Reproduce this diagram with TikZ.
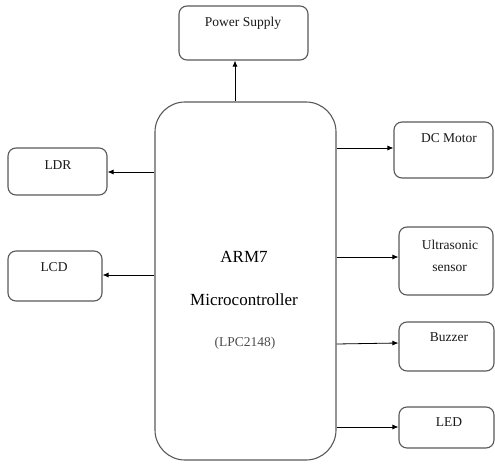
\documentclass[tikz,border=0pt]{standalone}
\usepackage{fontspec}
\setmainfont{Liberation Serif}
\usetikzlibrary{arrows.meta}
\begin{document}
\begin{tikzpicture}[x=1pt,y=-1pt,
  box/.style={draw=black!65,line width=1.1pt,rounded corners=8pt,inner sep=0pt,fill=white},
  bigbox/.style={draw=black!65,line width=1.1pt,rounded corners=30pt,inner sep=0pt},
  lbl/.style={inner sep=0pt,font=\fontsize{13.5}{15}\selectfont,text=black!90},
  mlbl/.style={inner sep=0pt,font=\fontsize{17}{19}\selectfont},
  arr/.style={draw=black,line width=0.8pt,-{Latex[length=6pt,width=5pt]}}]
\useasboundingbox (0,0) rectangle (495,465);
% boxes
\node[bigbox,minimum width=181pt,minimum height=358pt] (main) at (245.5,281) {};
\node[box,minimum width=129pt,minimum height=54pt] (ps) at (243.5,33) {};
\node[box,minimum width=99pt,minimum height=47pt] (ldr) at (57.5,171.5) {};
\node[box,minimum width=94pt,minimum height=50pt] (lcd) at (55,276) {};
\node[box,minimum width=99pt,minimum height=56pt] (dc) at (443.5,150) {};
\node[box,minimum width=94pt,minimum height=68pt] (us) at (446,261) {};
\node[box,minimum width=95pt,minimum height=49pt] (bz) at (446.5,346.5) {};
\node[box,minimum width=95pt,minimum height=41pt] (led) at (446.5,427.5) {};
% labels
\node[lbl] (tps) at (243,23) {Power Supply};
\node[lbl] (tldr) at (58,165) {LDR};
\node[lbl] (tlcd) at (54,267) {LCD};
\node[lbl] (tdc) at (449,138) {DC Motor};
\node[lbl] (tus1) at (450,245) {Ultrasonic};
\node[lbl] (tus2) at (449.5,268) {sensor};
\node[lbl] (tbz) at (449,337) {Buzzer};
\node[lbl] (tled) at (449,422) {LED};
\node[mlbl] (t1) at (244,257) {ARM7};
\node[mlbl] (t2) at (244,300) {Microcontroller};
\node[lbl,text=black!70] (t3) at (245,343) {(LPC2148)};
% connectors
\draw[arr] (main.north -| 235,0) -- (ps.south -| 235,0);
\draw[arr] (main.west |- 0,172) -- (ldr.east |- 0,172);
\draw[arr] (main.west |- 0,275) -- (lcd.east |- 0,275);
\draw[arr] (main.east |- 0,148) -- (dc.west |- 0,148);
\draw[arr] (main.east |- 0,257) -- (us.west |- 0,257);
\draw[arr] (main.east |- 0,344) -- (bz.west |- 0,343);
\draw[arr] (main.east |- 0,427) -- (led.west |- 0,427);
\end{tikzpicture}
\end{document}
